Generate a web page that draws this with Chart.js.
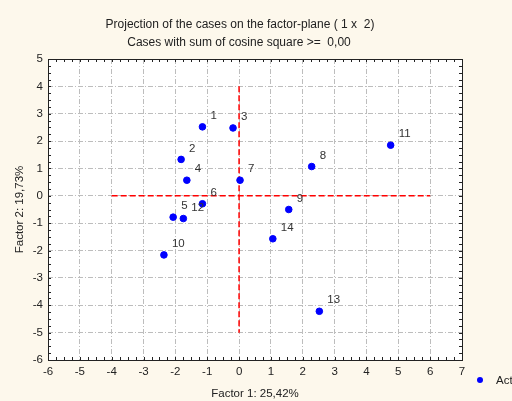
<!DOCTYPE html>
<html>
<head>
<meta charset="utf-8">
<script src="https://cdn.jsdelivr.net/npm/chart.js@4.4.1/dist/chart.umd.min.js"></script>
<style>
  html, body { margin: 0; padding: 0; background: #fdf8ec; }
  #chart { display: block; }
</style>
</head>
<body>
<canvas id="chart" width="512" height="401"></canvas>
<script>
// case labels and factor coordinates
let case_labels = ["1", "2", "3", "4", "5", "6", "7", "8", "9", "10", "11", "12", "13", "14"];
let factor1 = [-1.15, -1.82, -0.19, -1.64, -2.07, -1.15, 0.03, 2.28, 1.56, -2.36, 4.76, -1.75, 2.52, 1.06];
let factor2 = [2.52, 1.33, 2.48, 0.57, -0.78, -0.29, 0.57, 1.07, -0.50, -2.16, 1.85, -0.83, -4.22, -1.57];

// red reference lines through the origin
let hline_x = [-4, 6];
let hline_y = [0, 0];
let vline_x = [0, 0];
let vline_y = [4, -5];

let title_lines = [
  "Projection of the cases on the factor-plane ( 1 x  2)",
  "Cases with sum of cosine square >=  0,00",
];
let legend_label = "Active";

let font_family = "'Liberation Sans', Arial, sans-serif";
let text_color = "#222222";
let point_color = "#0000ff";
let line_red = "#ff0000";

function toPoints(xs, ys) {
  let pts = [];
  for (let i = 0; i < xs.length; i++) {
    pts.push({ x: xs[i], y: ys[i] });
  }
  return pts;
}

// titles, frame, minor ticks, case labels and legend
let extras = {
  id: "extras",
  beforeDraw(chart) {
    let ctx = chart.ctx;
    let a = chart.chartArea;
    ctx.save();
    ctx.fillStyle = "#fdf8ec";
    ctx.fillRect(0, 0, chart.width, chart.height);
    ctx.fillStyle = "#ffffff";
    ctx.fillRect(a.left, a.top, a.right - a.left, a.bottom - a.top);
    ctx.restore();
  },
  afterDatasetsDraw(chart) {
    let ctx = chart.ctx;
    let a = chart.chartArea;
    let xs = chart.scales.x;
    let ys = chart.scales.y;
    ctx.save();

    // frame
    ctx.strokeStyle = "#222222";
    ctx.lineWidth = 1;
    ctx.strokeRect(Math.round(a.left) + 0.5, Math.round(a.top) + 0.5,
      Math.round(a.right - a.left), Math.round(a.bottom - a.top));

    // minor ticks every 0.25, inside the frame
    ctx.beginPath();
    for (let v = xs.min; v <= xs.max + 1e-9; v += 0.25) {
      let px = Math.round(xs.getPixelForValue(v)) + 0.5;
      ctx.moveTo(px, a.top);
      ctx.lineTo(px, a.top + 3);
      ctx.moveTo(px, a.bottom);
      ctx.lineTo(px, a.bottom - 3);
    }
    for (let v = ys.min; v <= ys.max + 1e-9; v += 0.25) {
      let py = Math.round(ys.getPixelForValue(v)) + 0.5;
      ctx.moveTo(a.left, py);
      ctx.lineTo(a.left + 3, py);
      ctx.moveTo(a.right, py);
      ctx.lineTo(a.right - 3, py);
    }
    ctx.stroke();

    // case labels
    ctx.font = "11.5px " + font_family;
    ctx.fillStyle = "#333333";
    ctx.textAlign = "left";
    ctx.textBaseline = "middle";
    let meta = chart.getDatasetMeta(0);
    meta.data.forEach((pt, i) => {
      ctx.fillText(case_labels[i], pt.x + 8, pt.y - 11);
    });

    // titles
    ctx.font = "12px " + font_family;
    ctx.fillStyle = text_color;
    ctx.textAlign = "center";
    ctx.fillText(title_lines[0], 240, 25);
    ctx.fillText(title_lines[1], 239, 43);

    // legend
    ctx.fillStyle = point_color;
    ctx.beginPath();
    ctx.arc(480, 380, 3, 0, Math.PI * 2);
    ctx.fill();
    ctx.font = "11.5px " + font_family;
    ctx.fillStyle = text_color;
    ctx.textAlign = "left";
    ctx.fillText(legend_label, 496, 381);

    ctx.restore();
  },
};

let gridOpts = {
  color: "#bdbdbd",
  lineWidth: 1,
  drawTicks: false,
};

let tickFont = { size: 11.5, family: font_family };

let config = {
  type: "scatter",
  data: {
    datasets: [
      {
        label: legend_label,
        data: toPoints(factor1, factor2),
        backgroundColor: point_color,
        borderColor: point_color,
        pointRadius: 3.3,
        pointHoverRadius: 3.3,
      },
      {
        type: "line",
        data: toPoints(hline_x, hline_y),
        borderColor: line_red,
        borderWidth: 1.5,
        borderDash: [6, 3],
        pointRadius: 0,
        fill: false,
      },
      {
        type: "line",
        data: toPoints(vline_x, vline_y),
        borderColor: line_red,
        borderWidth: 1.5,
        borderDash: [6, 3],
        pointRadius: 0,
        fill: false,
      },
    ],
  },
  options: {
    responsive: false,
    animation: false,
    layout: { padding: { left: 0, top: 59, right: 50, bottom: 0 } },
    plugins: {
      legend: { display: false },
      tooltip: { enabled: false },
    },
    scales: {
      x: {
        type: "linear",
        min: -6,
        max: 7,
        ticks: { stepSize: 1, padding: 5, color: text_color, font: tickFont },
        grid: gridOpts,
        border: { display: false, dash: [5, 2, 1, 2] },
        title: {
          display: true,
          text: "Factor 1: 25,42%",
          color: text_color,
          font: tickFont,
          padding: { top: 0, bottom: 0 },
        },
        afterFit: (s) => { s.height = 41; },
      },
      y: {
        type: "linear",
        min: -6,
        max: 5,
        ticks: { stepSize: 1, padding: 5, color: text_color, font: tickFont },
        grid: gridOpts,
        border: { display: false, dash: [5, 2, 1, 2] },
        title: {
          display: true,
          text: "Factor 2: 19,73%",
          color: text_color,
          font: tickFont,
          padding: { top: 13, bottom: 0 },
        },
        afterFit: (s) => { s.width = 48; },
      },
    },
  },
  plugins: [extras],
};

let chart = new Chart(document.getElementById("chart"), config);
</script>
</body>
</html>
